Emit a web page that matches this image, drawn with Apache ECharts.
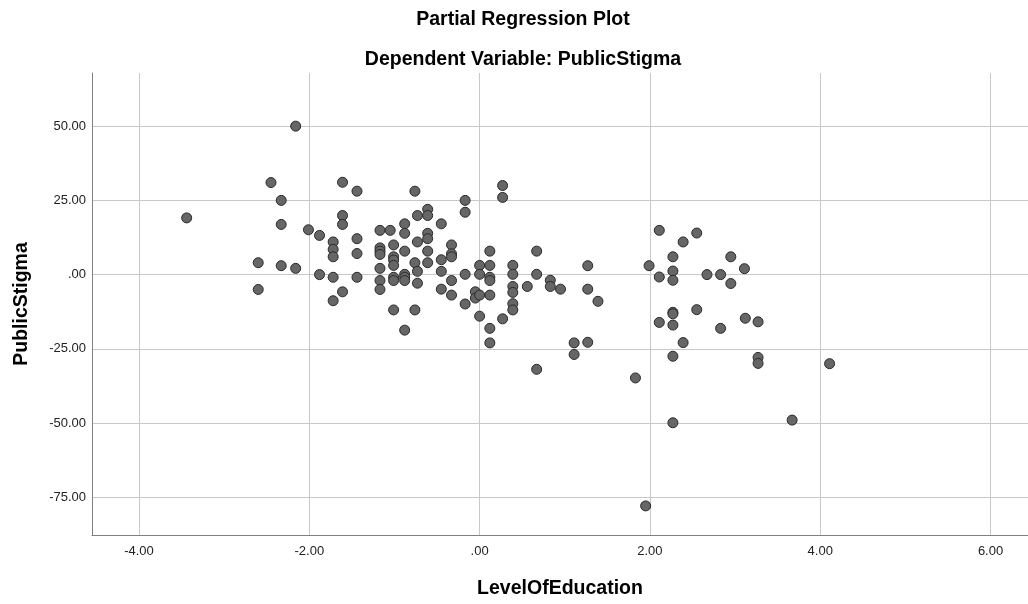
<!DOCTYPE html>
<html>
<head>
<meta charset="utf-8">
<script src="https://cdn.jsdelivr.net/npm/echarts@6/dist/echarts.min.js"></script>
<style>
html,body{margin:0;padding:0;background:#fff;}
#chart{width:1028px;height:604px;}
</style>
</head>
<body>
<div id="chart"></div>
<script>
// ---- Data ----
const xTicks = [-4, -2, 0, 2, 4, 6];
const yTicks = [-75, -50, -25, 0, 25, 50];
const levelOfEducation = [
  -2.16,-2.45,-2.33,-3.44,-2.33,-2.01,-1.88,-1.72,-1.72,-1.72,-2.60,-2.33,-2.16,-1.88,-1.72,-2.60,-1.72,
  -1.61,-1.44,-0.76,0.27,0.27,-0.17,-0.17,-0.61,-0.61,-0.73,-1.61,-1.61,-0.88,-0.45,-1.17,-1.05,-0.88,-0.61,-0.61,-0.73,
  -1.44,-1.01,-1.17,-1.17,-1.17,-1.01,-1.01,-1.01,-0.88,-0.61,-0.33,-0.33,-0.33,-0.45,-1.44,-0.76,-0.61,-0.73,-0.45,
  -1.17,-1.44,-1.17,-1.17,-1.01,-1.01,-0.88,-0.88,-0.88,-0.73,-0.33,-0.17,0.00,0.00,0.12,0.12,0.12,0.12,
  0.39,0.39,0.39,0.39,0.39,0.39,0.56,0.67,0.67,0.83,0.83,0.95,-0.45,-0.33,-0.05,-0.05,0.00,0.12,-0.17,0.00,0.27,
  0.12,0.12,-1.01,-0.76,-0.88,-1.61,1.11,
  2.11,2.55,2.39,2.27,2.95,1.99,2.27,2.11,2.27,2.67,2.83,3.11,2.95,1.27,1.27,1.39,2.27,2.27,2.55,2.11,2.27,2.83,
  3.12,3.27,1.27,1.11,2.39,2.27,3.27,
  0.67,1.83,3.27,4.11,2.27,3.67,1.95
];
const publicStigma = [
  50.0,31.0,25.0,19.1,16.9,15.1,13.2,11.0,8.5,6.0,4.0,3.0,2.1,0.0,-0.9,-5.0,-8.8,
  31.1,28.1,28.1,30.0,26.0,25.0,21.0,22.0,19.9,19.9,19.9,16.9,17.1,17.1,14.9,14.9,13.9,13.9,12.1,11.0,
  12.1,10.0,9.0,7.9,6.8,6.0,4.9,3.1,7.9,7.9,10.0,7.0,6.0,5.0,7.1,4.0,4.0,1.1,1.1,
  2.1,-0.9,-2.0,-5.0,-0.9,-2.0,0.1,-0.9,-2.0,-2.9,-2.0,0.1,3.1,0.1,3.1,7.9,-0.9,-2.0,
  3.1,0.1,-4.0,-6.0,-9.8,-11.9,-4.0,7.9,0.1,-1.9,-4.0,-4.9,-4.9,-6.9,-5.8,-7.9,-6.9,-6.9,-9.9,-14.0,-14.9,
  -18.1,-23.0,-11.9,-11.9,-18.7,-5.8,-23.0,
  14.9,14.0,11.0,6.0,6.0,3.0,1.2,-0.8,-1.9,0.0,0.0,2.0,-3.0,3.0,-4.9,-9.0,-12.7,-13.2,-11.8,-16.1,-17.0,-18.1,
  -14.7,-15.9,-22.8,-26.9,-22.9,-27.5,-27.9,
  -31.9,-34.8,-29.9,-30.0,-49.9,-49.0,-77.9
];
const titleText = 'Partial Regression Plot';
const subtitleText = 'Dependent Variable: PublicStigma';
const xName = 'LevelOfEducation';
const yName = 'PublicStigma';

function fmt(v){
  if (v === 0) return '.00';
  return v.toFixed(2);
}

const points = levelOfEducation.map((x, i) => [x, publicStigma[i]]);

const chart = echarts.init(document.getElementById('chart'), null, {renderer:'canvas'});
const FONT = '"Liberation Sans", Arial, sans-serif';
const BIG = 19.5;
chart.setOption({
  animation: false,
  backgroundColor: '#ffffff',
  grid: { left: 92, right: 0, top: 73, bottom: 67, containLabel: false },
  title: [
    { text: titleText, left: 518, top: 5, textAlign: 'center',
      textStyle: { fontFamily: FONT, fontSize: BIG, fontWeight: 'bold', color: '#000' } },
    { text: subtitleText, left: 518, top: 45, textAlign: 'center',
      textStyle: { fontFamily: FONT, fontSize: BIG, fontWeight: 'bold', color: '#000' } }
  ],
  xAxis: {
    type: 'value', min: -4.552, max: 6.44,
    name: xName, nameLocation: 'middle', nameGap: 44,
    nameTextStyle: { fontFamily: FONT, fontSize: BIG, fontWeight: 'bold', color: '#000' },
    axisLine: { show: true, onZero: false, lineStyle: { color: '#808080', width: 1 } },
    axisTick: { show: false, customValues: xTicks },
    axisLabel: { customValues: xTicks, formatter: fmt, color: '#222', fontFamily: FONT, fontSize: 13, margin: 10 },
    splitLine: { show: true, lineStyle: { color: '#c8c8c8', width: 1 } }
  },
  yAxis: {
    type: 'value', min: -87.7, max: 67.9,
    name: yName, nameLocation: 'middle', nameGap: 60, nameRotate: 90,
    nameTextStyle: { fontFamily: FONT, fontSize: BIG, fontWeight: 'bold', color: '#000' },
    axisLine: { show: true, onZero: false, lineStyle: { color: '#808080', width: 1 } },
    axisTick: { show: false, customValues: yTicks },
    axisLabel: { customValues: yTicks, formatter: fmt, color: '#222', fontFamily: FONT, fontSize: 13, margin: 6 },
    splitLine: { show: true, lineStyle: { color: '#c8c8c8', width: 1 } }
  },
  series: [{
    type: 'scatter',
    data: points,
    symbol: 'circle',
    symbolSize: 10,
    itemStyle: { color: '#666666', borderColor: '#2a2a2a', borderWidth: 1, opacity: 1 }
  }]
});
</script>
</body>
</html>
